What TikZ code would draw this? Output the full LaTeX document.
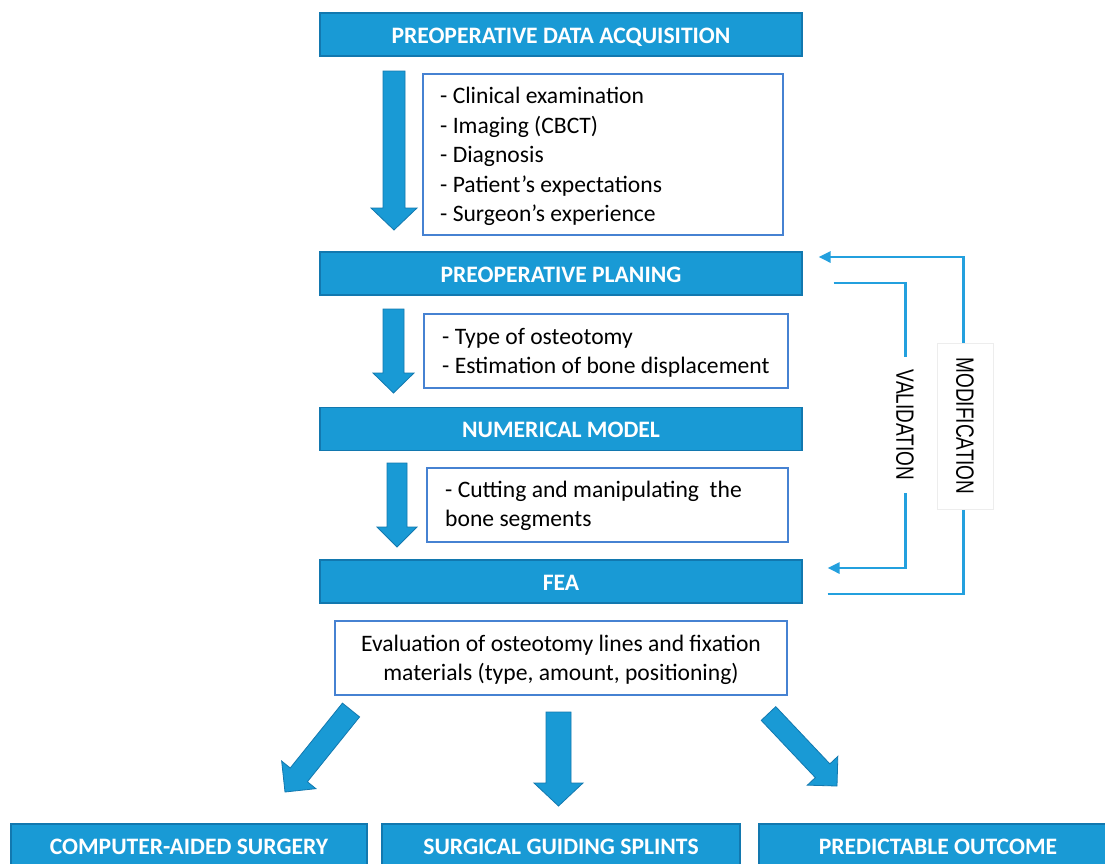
\documentclass[tikz,border=0pt]{standalone}
\usepackage{fontspec}
\usepackage{graphicx}
\setmainfont{Carlito}
\newfontfamily\arialf{Liberation Sans}
\usetikzlibrary{calc,arrows.meta}
\definecolor{hdfill}{RGB}{25,154,213}
\definecolor{hdedge}{RGB}{18,120,175}
\definecolor{boxedge}{RGB}{70,130,210}
\definecolor{linkblue}{RGB}{35,160,222}
\newcommand\hdfont{\fontsize{23.6}{28}\selectfont\bfseries}
\newcommand\bodyfont{\fontsize{23.6}{29.5}\selectfont}
\newcommand\sidefont{\arialf\fontsize{25}{30}\selectfont}
\newcommand\fatarrow[5]{% tail, tip, half shaft, half head, head length
  \coordinate (fa-n) at ($(#2)!#5!(#1)$);
  \filldraw[fatarrowstyle] ($(#1)!#3!90:(#2)$) -- ($(fa-n)!#3!90:(#2)$) -- ($(fa-n)!#4!90:(#2)$) -- (#2)
    -- ($(fa-n)!#4!-90:(#2)$) -- ($(fa-n)!#3!-90:(#2)$) -- ($(#1)!#3!-90:(#2)$) -- cycle;}
\tikzset{
  heading/.style={fill=hdfill, draw=hdedge, line width=1.2pt, minimum width=482pt, minimum height=43pt,
    text=white, font=\hdfont, inner sep=0pt, text height=17.5pt, text depth=0pt},
  tbox/.style={draw=boxedge, line width=1.4pt, fill=white, inner sep=0pt},
  btext/.style={align=left, font=\bodyfont, inner sep=0pt, anchor=base west},
  fatarrowstyle/.style={fill=hdfill, draw=hdedge, line width=0.8pt, line join=miter},
  link/.style={draw=linkblue, line width=2.8pt},
  linkarrow/.style={link, -{Triangle[length=12pt,width=11pt]}},
  sidelab/.style={fill=white, text=black, font=\sidefont, inner sep=0pt, rotate=-90}
}
\begin{document}
\begin{tikzpicture}[x=1pt,y=-1pt]
\useasboundingbox (0,0) rectangle (1105,863);
\clip (0,0) rectangle (1105,863);
\fill[white] (0,0) rectangle (1105,863);

% headings
\node[heading] (acq)  at (561,34.5)  {PREOPERATIVE DATA ACQUISITION};
\node[heading] (plan) at (561,273.5) {PREOPERATIVE PLANING};
\node[heading] (num)  at (561,429)   {NUMERICAL MODEL};
\node[heading] (fea)  at (561,581.5) {FEA};

% text boxes (text nodes anchored at the baseline of their last line)
\node[tbox, minimum width=360pt, minimum height=161pt] (b1) at (603,154.5) {};
\node[btext] (t1) at (440,221.5)
  {- Clinical examination\\- Imaging (CBCT)\\- Diagnosis\\- Patient’s expectations\\- Surgeon’s experience};
\node[tbox, minimum width=364pt, minimum height=74pt] (b2) at (606,351) {};
\node[btext] (t2) at (442,373.5)
  {- Type of osteotomy\\- Estimation of bone displacement};
\node[tbox, minimum width=361pt, minimum height=74pt] (b3) at (607.5,505) {};
\node[btext] (t3) at (445,526.5)
  {- Cutting and manipulating~ the\\bone segments};
\node[tbox, minimum width=452pt, minimum height=74pt] (ev) at (561,658) {};
\node[btext, align=center, anchor=base] (tev) at (561,680.5)
  {Evaluation of osteotomy lines and fixation\\materials (type, amount, positioning)};

% bottom boxes
\node[heading, minimum width=356pt, minimum height=44pt] (cas) at (189,846) {COMPUTER-AIDED SURGERY};
\node[heading, minimum width=358pt, minimum height=44pt] (sgs) at (561,846) {SURGICAL GUIDING SPLINTS};
\node[heading, minimum width=358pt, minimum height=44pt] (po)  at (938,846) {PREDICTABLE OUTCOME};

% block arrows
\coordinate (a1t) at (394,71);    \coordinate (a1h) at (394,230);
\coordinate (a2t) at (393.5,309); \coordinate (a2h) at (393.5,393);
\coordinate (a3t) at (397,463);   \coordinate (a3h) at (397,547);
\coordinate (a4t) at (351,710);   \coordinate (a4h) at (285,792);
\coordinate (a5t) at (558.5,712); \coordinate (a5h) at (558.5,806);
\coordinate (a6t) at (768.5,713.5); \coordinate (a6h) at (837,786);
\fatarrow{a1t}{a1h}{11pt}{23pt}{22pt}
\fatarrow{a2t}{a2h}{10.5pt}{20.5pt}{20pt}
\fatarrow{a3t}{a3h}{10pt}{20pt}{20pt}
\fatarrow{a4t}{a4h}{11pt}{22pt}{22pt}
\fatarrow{a5t}{a5h}{12.5pt}{24.5pt}{23pt}
\fatarrow{a6t}{a6h}{10pt}{21pt}{21pt}

% feedback loops
\draw[linkarrow] ($(fea.east)+(25,12.5)$) -- ++(136,0) |- ($(plan.east)+(16,-16.5)$);
\draw[linkarrow] ($(plan.east)+(31,9.5)$) -- ++(72,0) |- ($(fea.east)+(25,-13.5)$);
\node[sidelab, minimum width=136pt, minimum height=30pt] (val) at (905,425)
  {\scalebox{0.76}[1]{VALIDATION}};
\node[sidelab, draw=black!7, line width=0.6pt, minimum width=166pt, minimum height=56pt] (mod) at (965,426)
  {\scalebox{0.76}[1]{MODIFICATION}};
\end{tikzpicture}
\end{document}
